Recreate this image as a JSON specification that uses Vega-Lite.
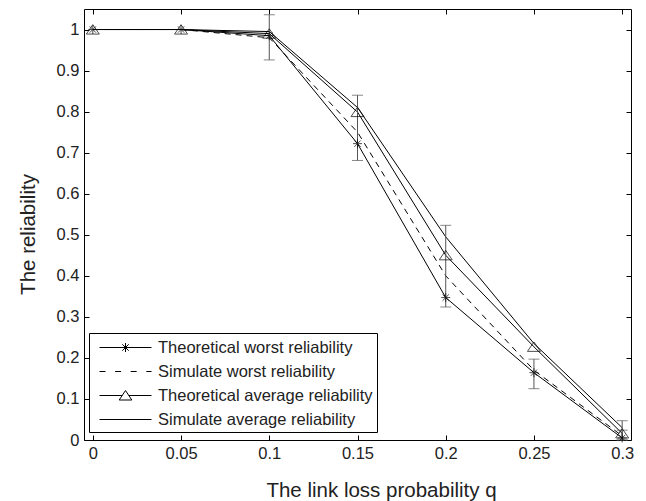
{
  "$schema": "https://vega.github.io/schema/vega-lite/v6.json",
  "width": 547,
  "height": 431,
  "autosize": {"type": "none"},
  "padding": {"left": 84, "top": 9, "right": 15, "bottom": 61},
  "background": "white",
  "config": {
    "view": {"stroke": "black", "strokeWidth": 1},
    "font": "Liberation Sans",
    "axis": {
      "grid": false,
      "domain": false,
      "tickColor": "black",
      "tickSize": -5,
      "tickWidth": 1,
      "labelFont": "Liberation Sans",
      "labelFontSize": 16.5,
      "labelColor": "#222",
      "titleFont": "Liberation Sans",
      "titleFontSize": 20.5,
      "titleFontWeight": "normal",
      "titleColor": "#222"
    }
  },
  "datasets": {
    "pts": [
      {"q": 0, "r": 1, "s": "Theoretical worst reliability"},
      {"q": 0.05, "r": 1, "s": "Theoretical worst reliability"},
      {"q": 0.1, "r": 0.985, "s": "Theoretical worst reliability"},
      {"q": 0.15, "r": 0.722, "s": "Theoretical worst reliability"},
      {"q": 0.2, "r": 0.347, "s": "Theoretical worst reliability"},
      {"q": 0.25, "r": 0.164, "s": "Theoretical worst reliability"},
      {"q": 0.3, "r": 0.005, "s": "Theoretical worst reliability"},
      {"q": 0, "r": 1, "s": "Simulate worst reliability"},
      {"q": 0.05, "r": 1, "s": "Simulate worst reliability"},
      {"q": 0.1, "r": 0.98, "s": "Simulate worst reliability"},
      {"q": 0.15, "r": 0.75, "s": "Simulate worst reliability"},
      {"q": 0.2, "r": 0.4, "s": "Simulate worst reliability"},
      {"q": 0.25, "r": 0.17, "s": "Simulate worst reliability"},
      {"q": 0.3, "r": 0.01, "s": "Simulate worst reliability"},
      {"q": 0, "r": 1, "s": "Theoretical average reliability"},
      {"q": 0.05, "r": 1, "s": "Theoretical average reliability"},
      {"q": 0.1, "r": 0.99, "s": "Theoretical average reliability"},
      {"q": 0.15, "r": 0.799, "s": "Theoretical average reliability"},
      {"q": 0.2, "r": 0.45, "s": "Theoretical average reliability"},
      {"q": 0.25, "r": 0.227, "s": "Theoretical average reliability"},
      {"q": 0.3, "r": 0.016, "s": "Theoretical average reliability"},
      {"q": 0, "r": 1, "s": "Simulate average reliability"},
      {"q": 0.05, "r": 1, "s": "Simulate average reliability"},
      {"q": 0.1, "r": 0.995, "s": "Simulate average reliability"},
      {"q": 0.15, "r": 0.81, "s": "Simulate average reliability"},
      {"q": 0.2, "r": 0.495, "s": "Simulate average reliability"},
      {"q": 0.25, "r": 0.235, "s": "Simulate average reliability"},
      {"q": 0.3, "r": 0.03, "s": "Simulate average reliability"}
    ],
    "err": [
      {"q": 0.1, "lo": 0.926, "hi": 1.036},
      {"q": 0.15, "lo": 0.681, "hi": 0.84},
      {"q": 0.2, "lo": 0.324, "hi": 0.523},
      {"q": 0.25, "lo": 0.125, "hi": 0.197},
      {"q": 0.3, "lo": 0.0, "hi": 0.047},
      {"q": 0.3, "lo": 0.0, "hi": 0.024}
    ]
  },
  "resolve": {"axis": {"x": "independent", "y": "independent"}},
  "layer": [
    {
      "data": {"name": "pts"},
      "transform": [{"filter": "datum.s !== 'Simulate worst reliability'"}],
      "mark": {"type": "line", "color": "black", "strokeWidth": 1},
      "encoding": {
        "x": {
          "field": "q", "type": "quantitative",
          "scale": {"domain": [-0.005, 0.305], "nice": false, "zero": false},
          "axis": {
            "orient": "bottom",
            "values": [0, 0.05, 0.1, 0.15, 0.2, 0.25, 0.3],
            "format": "~g",
            "labelPadding": 10,
            "title": "The link loss probability q",
            "titleX": 297, "titleY": 50,
            "titleAlign": "center", "titleBaseline": "middle", "titleAnchor": null
          }
        },
        "y": {
          "field": "r", "type": "quantitative",
          "scale": {"domain": [0, 1.05], "nice": false},
          "axis": {
            "orient": "left",
            "values": [0, 0.1, 0.2, 0.3, 0.4, 0.5, 0.6, 0.7, 0.8, 0.9, 1],
            "format": "~g",
            "labelPadding": 10,
            "title": "The reliability",
            "titleX": -56, "titleY": 225, "titleAngle": -90,
            "titleAlign": "center", "titleBaseline": "middle", "titleAnchor": null
          }
        },
        "detail": {"field": "s"}
      }
    },
    {
      "data": {"name": "pts"},
      "transform": [{"filter": "datum.s === 'Simulate worst reliability'"}],
      "mark": {"type": "line", "color": "black", "strokeWidth": 1, "strokeDash": [6, 5]},
      "encoding": {
        "x": {"field": "q", "type": "quantitative", "axis": null},
        "y": {"field": "r", "type": "quantitative", "axis": null}
      }
    },
    {
      "data": {"name": "err"},
      "mark": {"type": "rule", "color": "#555", "strokeWidth": 1},
      "encoding": {
        "x": {"field": "q", "type": "quantitative", "axis": null},
        "y": {"field": "lo", "type": "quantitative", "axis": null},
        "y2": {"field": "hi"}
      }
    },
    {
      "data": {"name": "err"},
      "mark": {"type": "tick", "orient": "horizontal", "color": "#555", "size": 11, "thickness": 1},
      "encoding": {
        "x": {"field": "q", "type": "quantitative", "axis": null},
        "y": {"field": "lo", "type": "quantitative", "axis": null}
      }
    },
    {
      "data": {"name": "err"},
      "mark": {"type": "tick", "orient": "horizontal", "color": "#555", "size": 11, "thickness": 1},
      "encoding": {
        "x": {"field": "q", "type": "quantitative", "axis": null},
        "y": {"field": "hi", "type": "quantitative", "axis": null}
      }
    },
    {
      "data": {"name": "pts"},
      "transform": [{"filter": "datum.s === 'Theoretical worst reliability'"}],
      "mark": {"type": "point", "filled": false, "color": "black", "strokeWidth": 1, "size": 81,
               "shape": "M-1,0H1M0,-1V1M-0.7,-0.7L0.7,0.7M-0.7,0.7L0.7,-0.7"},
      "encoding": {
        "x": {"field": "q", "type": "quantitative", "axis": null},
        "y": {"field": "r", "type": "quantitative", "axis": null}
      }
    },
    {
      "data": {"name": "pts"},
      "transform": [{"filter": "datum.s === 'Theoretical average reliability'"}],
      "mark": {"type": "point", "filled": false, "color": "black", "strokeWidth": 1, "size": 169,
               "shape": "M-1,0.7L0,-0.75L1,0.7Z"},
      "encoding": {
        "x": {"field": "q", "type": "quantitative", "axis": null},
        "y": {"field": "r", "type": "quantitative", "axis": null}
      }
    },
    {
      "data": {"name": "pts"},
      "mark": {"type": "point", "filled": false, "color": "black", "strokeWidth": 1, "size": 400, "opacity": 0},
      "encoding": {
        "x": {"field": "q", "type": "quantitative", "axis": null},
        "y": {"field": "r", "type": "quantitative", "axis": null},
        "shape": {
          "field": "s", "type": "nominal",
          "scale": {
            "domain": ["Theoretical worst reliability", "Simulate worst reliability", "Theoretical average reliability", "Simulate average reliability"],
            "range": [
              "M-2.6,0H2.6M0,-0.45V0.45M-0.32,-0.32L0.32,0.32M-0.32,0.32L0.32,-0.32",
              "M-2.6,0H-2M-1.04,0H-0.44M0.52,0H1.12M2.08,0H2.6",
              "M-2.6,0H-0.33M0.33,0H2.6M-0.63,0.45L0,-0.5L0.63,0.45Z",
              "M-2.6,0H2.6"
            ]
          },
          "legend": {
            "title": null,
            "orient": "none",
            "legendX": 5,
            "legendY": 324,
            "padding": 4,
            "strokeColor": "black",
            "fillColor": "white",
            "labelFont": "Liberation Sans",
            "labelFontSize": 16.5,
            "labelColor": "#222",
            "symbolOffset": 22,
            "labelOffset": 22,
            "rowPadding": 5,
            "labelLimit": 400,
            "symbolSize": 400,
            "symbolStrokeColor": "black",
            "symbolStrokeWidth": 1,
            "symbolFillColor": "transparent",
            "symbolOpacity": 1,
            "encode": {"symbols": {"update": {"opacity": {"value": 1}, "strokeOpacity": {"value": 1}}}}
          }
        }
      }
    },
    {
      "data": {"name": "pts"},
      "mark": {"type": "point", "opacity": 0},
      "encoding": {
        "x": {
          "field": "q", "type": "quantitative",
          "axis": {"orient": "top", "values": [0, 0.05, 0.1, 0.15, 0.2, 0.25, 0.3], "labels": false, "title": null}
        },
        "y": {
          "field": "r", "type": "quantitative",
          "axis": {"orient": "right", "values": [0, 0.1, 0.2, 0.3, 0.4, 0.5, 0.6, 0.7, 0.8, 0.9, 1], "labels": false, "title": null}
        }
      }
    }
  ]
}
